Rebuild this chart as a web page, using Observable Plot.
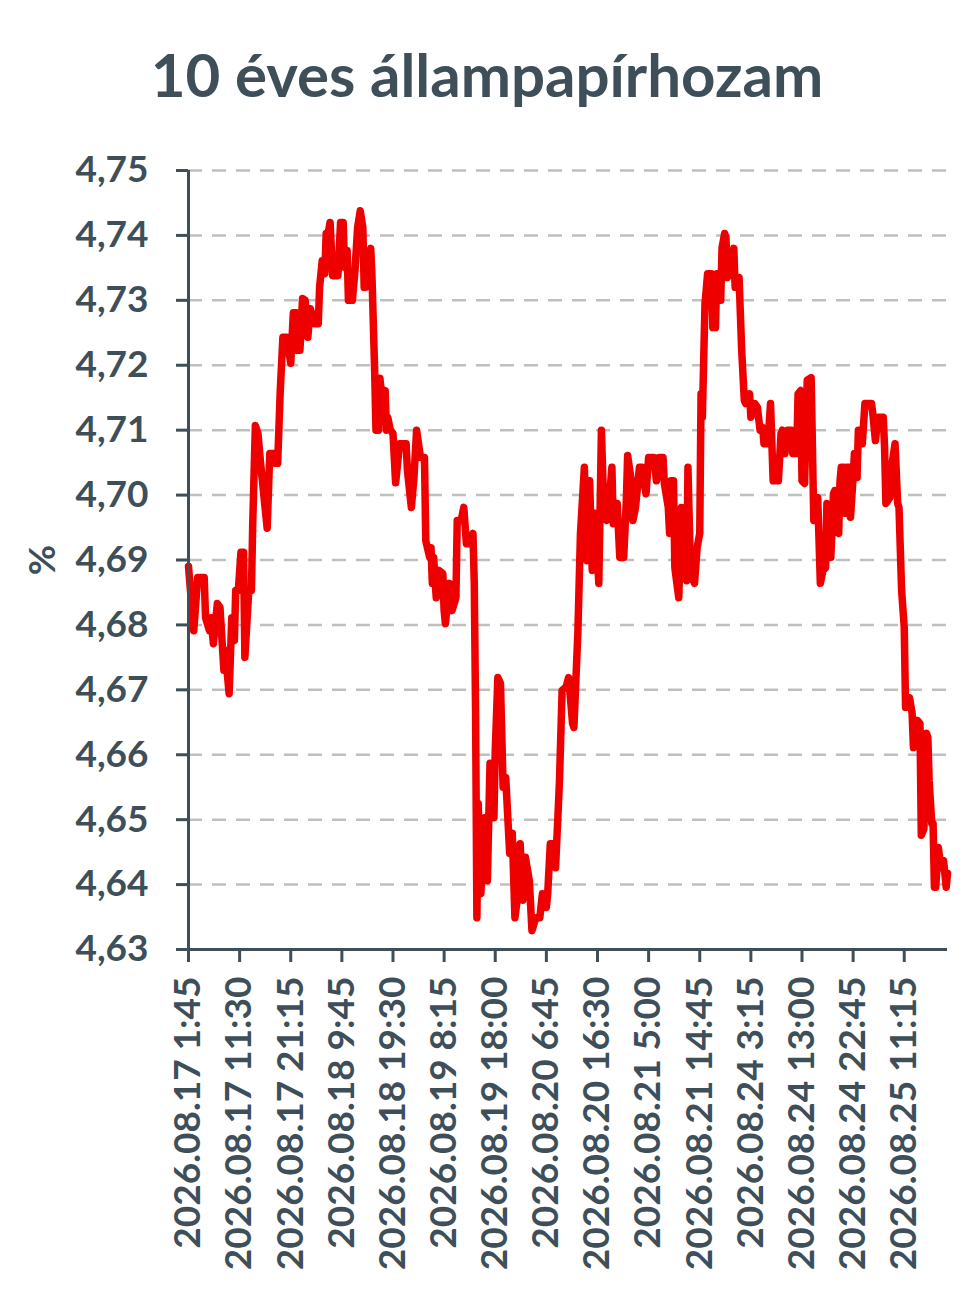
<!DOCTYPE html>
<html>
<head>
<meta charset="utf-8">
<script src="https://cdn.jsdelivr.net/npm/d3@7"></script>
<script src="https://cdn.jsdelivr.net/npm/@observablehq/plot@0.6"></script>
<style>
  html, body { margin: 0; padding: 0; background: #fff; }
  #wrap { width: 974px; height: 1299px; position: relative; overflow: hidden; }
  #title { position: absolute; left: 0; width: 974px; top: 38px; text-align: center;
           font-family: Lato, sans-serif; font-weight: 700; font-size: 60px; line-height: 72px; color: #3e4f5a; }
  #chart { position: absolute; left: 0; top: 130px; }
  #chart svg text { font-weight: 700; }
</style>
</head>
<body>
<div id="wrap">
  <div id="title">10 éves állampapírhozam</div>
  <div id="chart"></div>
</div>
<script>
// x tick labels (every 39th observation)
const tickLabels = [
  "2026.08.17 1:45", "2026.08.17 11:30", "2026.08.17 21:15", "2026.08.18 9:45",
  "2026.08.18 19:30", "2026.08.19 8:15", "2026.08.19 18:00", "2026.08.20 6:45",
  "2026.08.20 16:30", "2026.08.21 5:00", "2026.08.21 14:45", "2026.08.24 3:15",
  "2026.08.24 13:00", "2026.08.24 22:45", "2026.08.25 11:15"
];
const tickStep = 39;
const lastIndex = 579;
const yTicks = [4.63, 4.64, 4.65, 4.66, 4.67, 4.68, 4.69, 4.70, 4.71, 4.72, 4.73, 4.74, 4.75];

// observation index of each read vertex
const obsIndex = [
  0,4,7,12,13,16,17,19,22,24,
  27,28,31,33,35,36,38,40,42,43,
  46,48,49,51,53,55,60,62,65,66,
  68,70,72,75,78,80,82,83,85,87,
  89,91,93,96,99,100,102,104,105,106,
  108,110,114,116,118,119,121,122,125,127,
  129,131,133,134,135,136,139,140,142,143,
  145,146,148,150,151,152,154,156,158,161,
  166,167,170,172,174,177,180,181,184,185,
  186,187,189,191,194,195,196,199,201,204,
  205,208,210,212,214,217,218,219,220,221,
  223,226,228,230,233,234,236,238,240,242,
  245,247,249,251,253,255,257,260,262,265,
  268,270,273,274,276,278,280,282,283,285,
  288,290,293,294,297,299,302,304,306,308,
  310,313,315,317,319,321,323,324,327,329,
  332,334,335,338,339,341,344,346,349,351,
  355,357,359,362,363,366,367,368,370,371,
  374,376,378,380,381,383,386,388,390,391,
  392,394,396,399,400,402,403,405,406,407,
  409,410,411,413,416,417,418,420,422,424,
  425,428,429,432,434,436,438,439,442,444,
  446,450,452,453,455,457,460,461,464,465,
  467,468,470,472,475,477,479,480,482,484,
  486,487,489,490,492,493,494,496,497,498,
  500,501,502,504,505,507,508,510,511,513,
  514,516,521,522,524,526,530,531,532,535,
  536,539,541,542,544,546,547,548,550,552,
  553,556,558,559,561,563,564,565,567,568,
  569,570,572,574,576,578,579
];
// yield (%) at each vertex
const yieldPct = [
  4.6890,4.6791,4.6873,4.6873,4.6811,4.6791,4.6811,4.6771,4.6833,4.6827,
  4.6730,4.6761,4.6694,4.6811,4.6776,4.6853,4.6853,4.6912,4.6912,4.6750,
  4.6853,4.6853,4.6956,4.7107,4.7095,4.7049,4.6949,4.7064,4.7064,4.7049,
  4.7049,4.7161,4.7243,4.7243,4.7203,4.7281,4.7281,4.7223,4.7223,4.7303,
  4.7300,4.7243,4.7287,4.7264,4.7264,4.7320,4.7361,4.7341,4.7403,4.7397,
  4.7420,4.7338,4.7338,4.7420,4.7420,4.7351,4.7377,4.7300,4.7300,4.7346,
  4.7412,4.7438,4.7412,4.7320,4.7320,4.7357,4.7380,4.7335,4.7192,4.7100,
  4.7100,4.7180,4.7141,4.7161,4.7100,4.7120,4.7100,4.7095,4.7019,4.7079,
  4.7079,4.7038,4.6981,4.7027,4.7100,4.7058,4.7058,4.6930,4.6904,4.6919,
  4.6864,4.6904,4.6842,4.6884,4.6879,4.6822,4.6802,4.6864,4.6822,4.6842,
  4.6961,4.6961,4.6981,4.6925,4.6925,4.6941,4.6864,4.6664,4.6349,4.6525,
  4.6386,4.6503,4.6406,4.6587,4.6503,4.6607,4.6719,4.6710,4.6550,4.6565,
  4.6448,4.6479,4.6349,4.6380,4.6463,4.6376,4.6442,4.6406,4.6329,4.6349,
  4.6349,4.6386,4.6365,4.6386,4.6463,4.6463,4.6426,4.6514,4.6560,4.6699,
  4.6704,4.6719,4.6648,4.6642,4.6787,4.6941,4.7043,4.6899,4.7022,4.6884,
  4.6972,4.6864,4.7100,4.6966,4.6961,4.6992,4.7043,4.6956,4.6987,4.6904,
  4.6904,4.6992,4.7061,4.7018,4.6961,4.6981,4.7043,4.7043,4.7002,4.7058,
  4.7058,4.7022,4.7058,4.7058,4.7018,4.6981,4.6941,4.7022,4.7022,4.6888,
  4.6842,4.6981,4.6888,4.6868,4.7043,4.6879,4.6864,4.6919,4.6941,4.7156,
  4.7120,4.7295,4.7341,4.7341,4.7258,4.7258,4.7341,4.7341,4.7300,4.7381,
  4.7403,4.7397,4.7335,4.7341,4.7380,4.7320,4.7335,4.7335,4.7223,4.7146,
  4.7141,4.7156,4.7120,4.7141,4.7135,4.7100,4.7104,4.7079,4.7079,4.7141,
  4.7022,4.7022,4.7095,4.7100,4.7064,4.7100,4.7100,4.7064,4.7064,4.7156,
  4.7161,4.7022,4.7018,4.7177,4.7181,4.6961,4.6961,4.6996,4.6864,4.6884,
  4.6888,4.6987,4.6981,4.6904,4.7002,4.7007,4.6945,4.6941,4.7022,4.7043,
  4.7043,4.6972,4.7043,4.7043,4.6966,4.7027,4.7064,4.7027,4.7100,4.7100,
  4.7079,4.7141,4.7141,4.7126,4.7084,4.7120,4.7120,4.7073,4.6987,4.6996,
  4.7038,4.7079,4.6987,4.6981,4.6853,4.6796,4.6673,4.6673,4.6688,4.6664,
  4.6611,4.6653,4.6648,4.6476,4.6486,4.6633,4.6627,4.6560,4.6494,4.6494,
  4.6396,4.6396,4.6457,4.6426,4.6437,4.6396,4.6417
];

const data = obsIndex.map((i, k) => ({ i, v: yieldPct[k] }));
const tickIdx = tickLabels.map((_, k) => k * tickStep);
const ink = "#3e4f5a";
const fmt = d => d.toFixed(2).replace(".", ",");

const chart = Plot.plot({
  width: 974,
  height: 1169,
  marginLeft: 188,
  marginRight: 27,
  marginTop: 40,
  marginBottom: 350,
  style: { fontFamily: "Lato, sans-serif", color: ink, background: "#fff" },
  x: { domain: [0, lastIndex] },
  y: { domain: [4.63, 4.75] },
  marks: [
    Plot.ruleY(yTicks.slice(1), { stroke: "#bfbfbf", strokeWidth: 2.5, strokeDasharray: "14,10" }),
    Plot.line(data, { x: "i", y: "v", stroke: "#ee0000", strokeWidth: 7.5,
                      strokeLinejoin: "round", strokeLinecap: "round" }),
    Plot.ruleX([0], { stroke: ink, strokeWidth: 3 }),
    Plot.ruleY([4.63], { stroke: ink, strokeWidth: 3 }),
    Plot.axisY({ ticks: yTicks, tickFormat: fmt, tickSize: 12, tickPadding: 28,
                 fontSize: 37, strokeWidth: 3, color: ink,
                 label: "%", labelAnchor: "center", labelOffset: 160, labelArrow: "none" }),
    Plot.axisX({ ticks: tickIdx, tickFormat: i => tickLabels[Math.round(i / tickStep)],
                 tickRotate: -90, tickSize: 13, tickPadding: 14, fontSize: 37,
                 strokeWidth: 3, color: ink, label: null })
  ]
});
document.getElementById("chart").appendChild(chart);
</script>
</body>
</html>
